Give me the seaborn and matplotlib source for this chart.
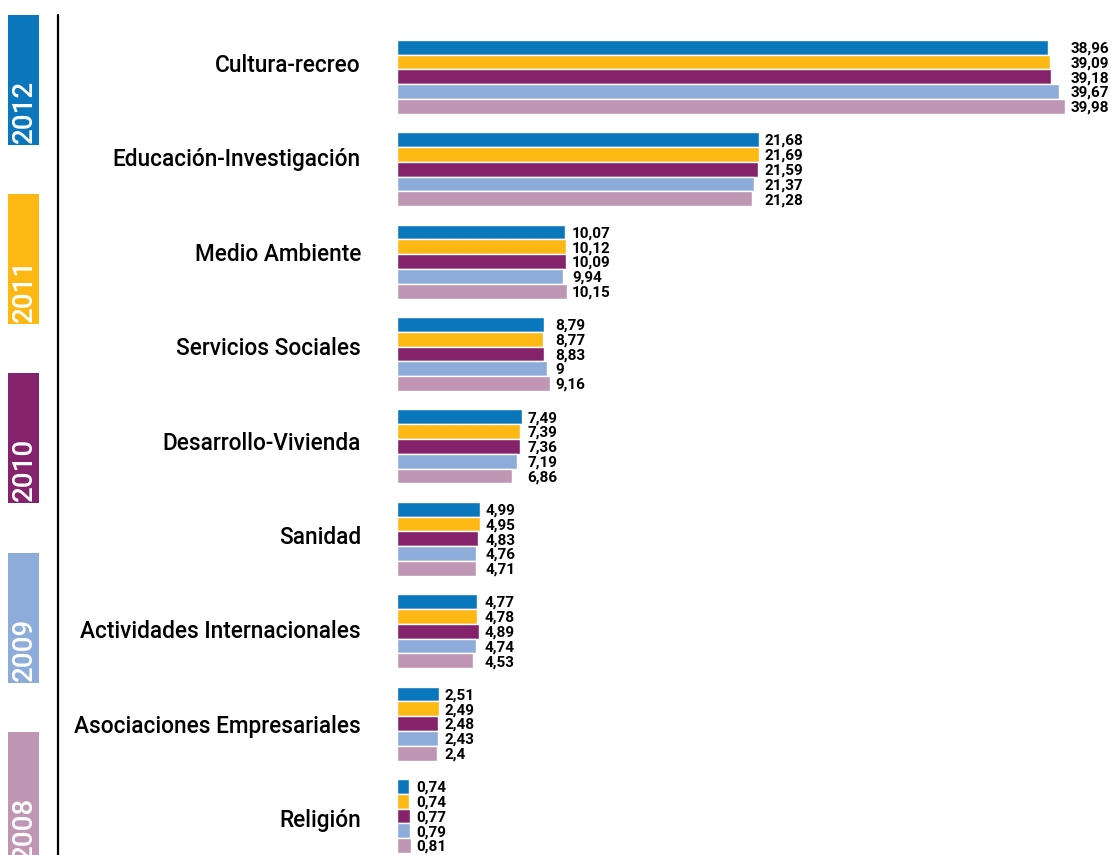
import pandas as pd
import matplotlib
matplotlib.use("Agg")
import matplotlib.pyplot as plt
from matplotlib.patches import Rectangle
from matplotlib.lines import Line2D
import seaborn as sns

# data
categories = ['Cultura-recreo', 'Educación-Investigación', 'Medio Ambiente',
              'Servicios Sociales', 'Desarrollo-Vivienda', 'Sanidad',
              'Actividades Internacionales', 'Asociaciones Empresariales', 'Religión']
years = ['2012', '2011', '2010', '2009', '2008']
v2012 = [38.96, 21.68, 10.07, 8.79, 7.49, 4.99, 4.77, 2.51, 0.74]
v2011 = [39.09, 21.69, 10.12, 8.77, 7.39, 4.95, 4.78, 2.49, 0.74]
v2010 = [39.18, 21.59, 10.09, 8.83, 7.36, 4.83, 4.89, 2.48, 0.77]
v2009 = [39.67, 21.37, 9.94, 9.00, 7.19, 4.76, 4.74, 2.43, 0.79]
v2008 = [39.98, 21.28, 10.15, 9.16, 6.86, 4.71, 4.53, 2.40, 0.81]
colors = ['#0a77bd', '#fdb813', '#84236b', '#8eacd9', '#bf97b4']

values = [v2012, v2011, v2010, v2009, v2008]
df = pd.DataFrame({
    'categoria': categories * len(years),
    'year': [y for y in years for _ in categories],
    'valor': [v for serie in values for v in serie],
})

sns.set_style('white')
plt.rcParams['font.family'] = ['Roboto', 'DejaVu Sans']

fig = plt.figure(figsize=(11.11, 8.55), dpi=100)
ax = fig.add_axes([397 / 1111, 0, 714 / 1111, 1])

sns.barplot(data=df, y='categoria', x='valor', hue='year', hue_order=years,
            order=categories, palette=colors, saturation=1, orient='h', width=0.8,
            edgecolor='white', linewidth=1, legend=False, ax=ax)

ax.set_xlim(0, 714 / 16.7)
ax.set_ylim(8.4226, -0.8306)
ax.set_xlabel('')
ax.set_ylabel('')
ax.set_xticks([])
sns.despine(ax=ax, left=True, bottom=True)

# category labels sit a bit above the group centres
ax.set_yticks([-0.149 + 1.0216 * i for i in range(len(categories))])
ax.set_yticklabels(categories, fontsize=16.3, fontweight='medium', color='black')
ax.tick_params(axis='y', length=0, pad=26)

# value labels, aligned at the longest bar of each group
group_max = [max(col) for col in zip(*values)]
for serie, container in zip(values, ax.containers):
    for i, (v, bar) in enumerate(zip(serie, container)):
        yc = bar.get_y() + bar.get_height() / 2
        ax.annotate(f'{v:g}'.replace('.', ','), xy=(group_max[i], yc),
                    xytext=(4, -1), textcoords='offset points',
                    va='center', ha='left', fontsize=11, fontweight='bold',
                    color='black', annotation_clip=False)

# year boxes on the left act as legend
box_tops = [15, 194, 373, 553, 732]
for year, col, top in zip(years, colors, box_tops):
    x0, w, h = 8 / 1111, 31 / 1111, 130 / 855
    y0 = 1 - (top + 130) / 855
    fig.patches.append(Rectangle((x0, y0), w, h, transform=fig.transFigure,
                                 facecolor=col, edgecolor='none'))
    fig.text(x0 + w / 2 + 1 / 1111, y0 + 2 / 855, year, rotation=90, ha='center',
             va='bottom', color='white', fontsize=20, fontweight='medium')

fig.lines.append(Line2D([58 / 1111, 58 / 1111], [0, 1 - 15 / 855],
                        transform=fig.transFigure, color='black', linewidth=1.6))

fig.savefig('out.png', dpi=100)
